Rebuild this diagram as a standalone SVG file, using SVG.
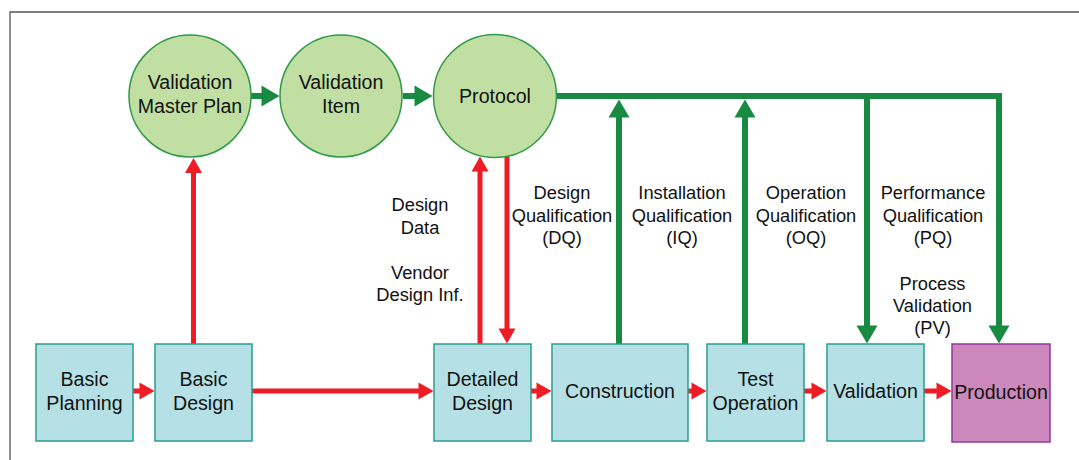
<svg xmlns="http://www.w3.org/2000/svg" width="1079" height="460" viewBox="0 0 1079 460">
<defs>
<style>
.t{font-family:"Liberation Sans",Arial,sans-serif;font-size:19.6px;fill:#111;text-anchor:middle}
.a{font-family:"Liberation Sans",Arial,sans-serif;font-size:18.3px;fill:#111;text-anchor:middle}
.c{fill:#c1dfa3;stroke:#2f9a48;stroke-width:1.5}
.b{fill:#b5e0e5;stroke:#2a9d90;stroke-width:1.5}
.p{fill:#cc88bb;stroke:#8e3a9c;stroke-width:1.5}
.r{fill:none;stroke:#ee1c25;stroke-width:5}
.g{fill:none;stroke:#198a42;stroke-width:6}
</style>
<marker id="ra" markerUnits="userSpaceOnUse" markerWidth="16" markerHeight="18" refX="0.5" refY="8.5" orient="auto" overflow="visible"><path d="M0,0 L15,8.5 L0,17 z" fill="#ee1c25"/></marker>
<marker id="ga" markerUnits="userSpaceOnUse" markerWidth="19" markerHeight="22" refX="0.5" refY="10.5" orient="auto" overflow="visible"><path d="M0,0 L18,10.5 L0,21 z" fill="#198a42"/></marker>
</defs>
<rect width="1079" height="460" fill="#fff"/>
<path d="M10,460 V12 H1079" fill="none" stroke="#555" stroke-width="1.3"/>

<g id="connectors">
<path class="r" d="M133,391 H140" marker-end="url(#ra)"/>
<path class="r" d="M193.5,344 V172.5" marker-end="url(#ra)"/>
<path class="r" d="M252,391 H419" marker-end="url(#ra)"/>
<path class="r" d="M480,344 V171" marker-end="url(#ra)"/>
<path class="r" d="M507,156 V329" marker-end="url(#ra)"/>
<path class="r" d="M531,391 H537" marker-end="url(#ra)"/>
<path class="r" d="M688,391 H692" marker-end="url(#ra)"/>
<path class="r" d="M804,391 H812" marker-end="url(#ra)"/>
<path class="r" d="M924,391 H937" marker-end="url(#ra)"/>
<path class="g" d="M251,96 H262" marker-end="url(#ga)"/>
<path class="g" d="M403,96 H415" marker-end="url(#ga)"/>
<path class="g" d="M556,96 H999 V326" stroke-linejoin="miter" marker-end="url(#ga)"/>
<path class="g" d="M867,96 V326" marker-end="url(#ga)"/>
<path class="g" d="M619,344 V117" marker-end="url(#ga)"/>
<path class="g" d="M745,344 V117" marker-end="url(#ga)"/>
</g>

<g id="vmp"><circle class="c" cx="190" cy="96" r="61"/><text class="t" x="190" y="89">Validation</text><text class="t" x="190" y="113">Master Plan</text></g>
<g id="vitem"><circle class="c" cx="341" cy="96" r="61"/><text class="t" x="341" y="89">Validation</text><text class="t" x="341" y="113">Item</text></g>
<g id="protocol"><circle class="c" cx="495" cy="96" r="61.5"/><text class="t" x="495" y="103">Protocol</text></g>

<g id="basic-planning"><rect class="b" x="36" y="344" width="97" height="97"/><text class="t" x="84.5" y="386">Basic</text><text class="t" x="84.5" y="410">Planning</text></g>
<g id="basic-design"><rect class="b" x="155" y="344" width="97" height="97"/><text class="t" x="203.5" y="386">Basic</text><text class="t" x="203.5" y="410">Design</text></g>
<g id="detailed-design"><rect class="b" x="434" y="344" width="97" height="97"/><text class="t" x="482.5" y="386">Detailed</text><text class="t" x="482.5" y="410">Design</text></g>
<g id="construction"><rect class="b" x="552" y="344" width="136" height="97"/><text class="t" x="620" y="398">Construction</text></g>
<g id="test-operation"><rect class="b" x="707" y="344" width="97" height="97"/><text class="t" x="755.5" y="386">Test</text><text class="t" x="755.5" y="410">Operation</text></g>
<g id="validation"><rect class="b" x="827" y="344" width="97" height="97"/><text class="t" x="875.5" y="398">Validation</text></g>
<g id="production"><rect class="p" x="952" y="344" width="98" height="98"/><text class="t" x="1001" y="399">Production</text></g>

<g id="labels">
<text class="a" x="420" y="211">Design</text><text class="a" x="420" y="233.5">Data</text>
<text class="a" x="420" y="279">Vendor</text><text class="a" x="420" y="301">Design Inf.</text>
<text class="a" x="562" y="198.5">Design</text><text class="a" x="562" y="221.5">Qualification</text><text class="a" x="562" y="243.5">(DQ)</text>
<text class="a" x="682" y="198.5">Installation</text><text class="a" x="682" y="221.5">Qualification</text><text class="a" x="682" y="243.5">(IQ)</text>
<text class="a" x="806" y="198.5">Operation</text><text class="a" x="806" y="221.5">Qualification</text><text class="a" x="806" y="243.5">(OQ)</text>
<text class="a" x="933" y="198.5">Performance</text><text class="a" x="933" y="221.5">Qualification</text><text class="a" x="933" y="243.5">(PQ)</text>
<text class="a" x="932.5" y="289.5">Process</text><text class="a" x="932.5" y="311.5">Validation</text><text class="a" x="932.5" y="333.5">(PV)</text>
</g>
</svg>
